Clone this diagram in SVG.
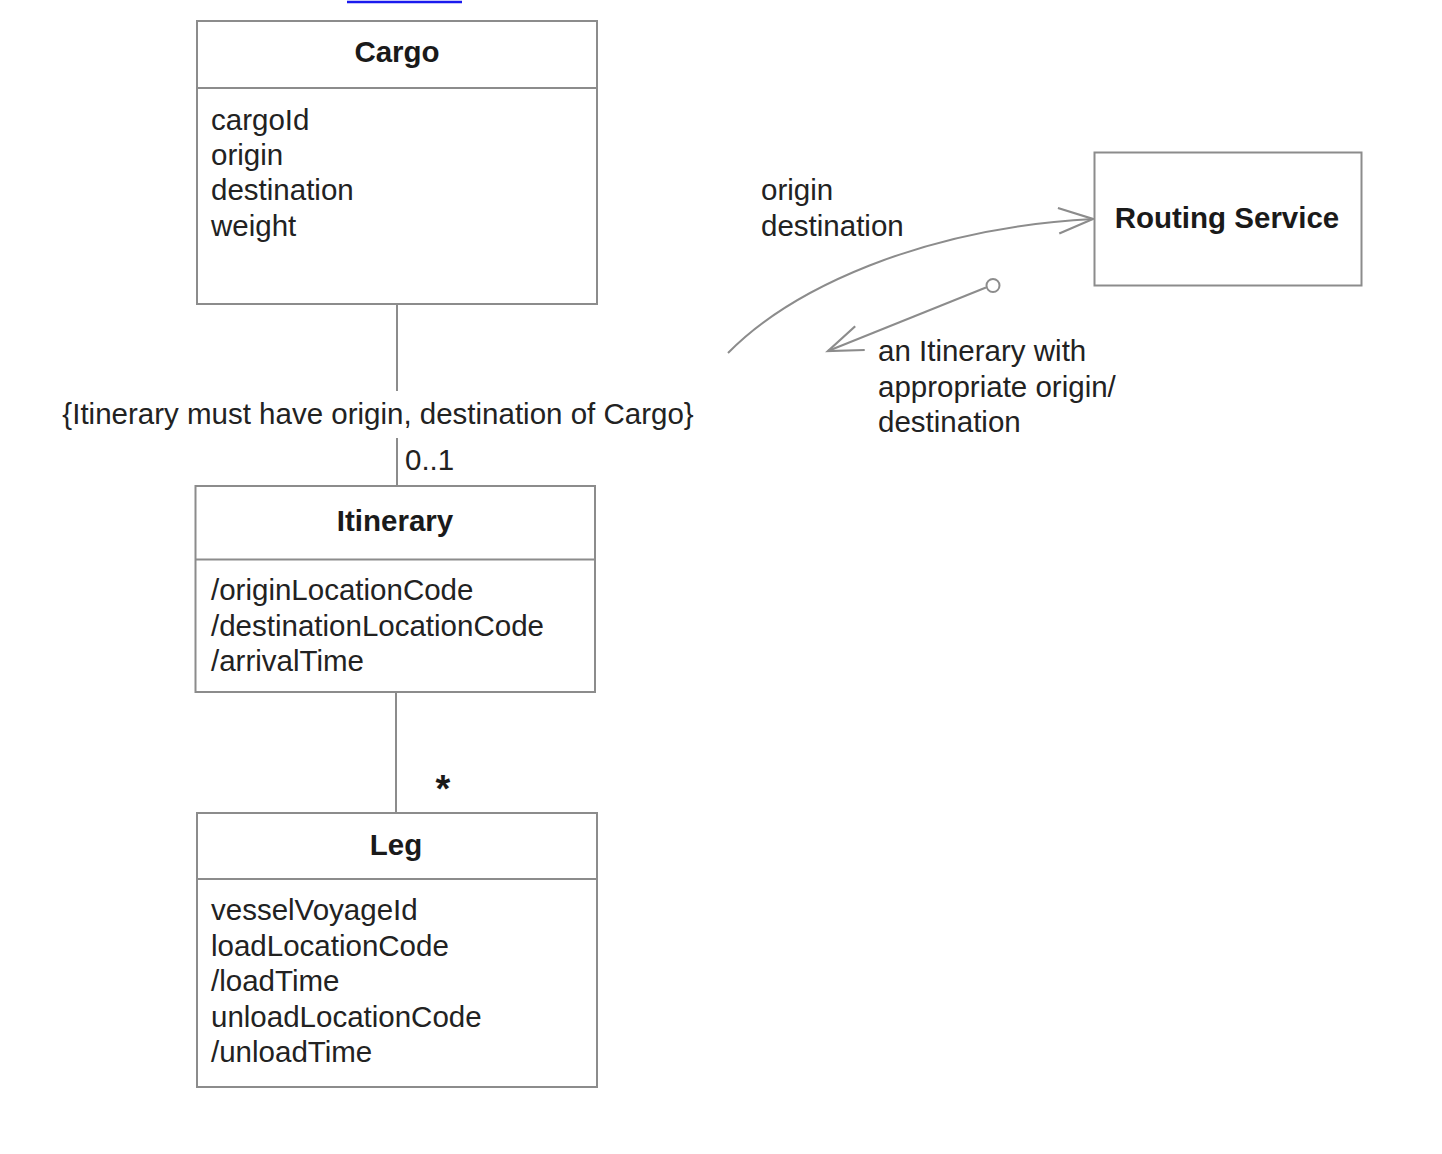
<svg xmlns="http://www.w3.org/2000/svg" width="1442" height="1154" viewBox="0 0 1442 1154">
<style>
  .box{fill:#fff;stroke:#8c8c8c;stroke-width:2}
  .div{stroke:#8c8c8c;stroke-width:2}
  .ln{fill:none;stroke:#8c8c8c;stroke-width:2}
  .t{font-family:"Liberation Sans",Arial,sans-serif;font-size:29.5px;fill:#222}
  .b{font-family:"Liberation Sans",Arial,sans-serif;font-size:29.5px;font-weight:bold;fill:#1a1a1a;text-anchor:middle}
</style>
<defs>
  <marker id="open" markerUnits="userSpaceOnUse" markerWidth="40" markerHeight="40" refX="0" refY="0" orient="auto" viewBox="-34 -15 36 30" overflow="visible">
    <path d="M-31,-11.5 L0,0 L-31,11.5" fill="none" stroke="#8c8c8c" stroke-width="2"/>
  </marker>
</defs>
<rect width="1442" height="1154" fill="#fff"/>
<line x1="347" y1="2" x2="462" y2="2" stroke="#1a1aee" stroke-width="2.5"/>

<g id="connectors">
  <line class="ln" x1="397" y1="304" x2="397" y2="391"/>
  <line class="ln" x1="397" y1="438" x2="397" y2="486"/>
  <line class="ln" x1="396" y1="692" x2="396" y2="813"/>
  <path class="ln" d="M728,353 C790,290 920,228 1093,219" marker-end="url(#open)"/>
  <line class="ln" x1="986" y1="287.5" x2="828" y2="351" marker-end="url(#open)"/>
  <circle cx="993" cy="285.5" r="6.5" fill="#fff" stroke="#8c8c8c" stroke-width="2"/>
</g>

<g id="labels">
  <text class="t" x="378" y="424" text-anchor="middle">{Itinerary must have origin, destination of Cargo}</text>
  <text class="t" x="405" y="470">0..1</text>
  <text x="443" y="802" font-family="Liberation Sans,Arial,sans-serif" font-size="38" font-weight="bold" fill="#1a1a1a" text-anchor="middle">*</text>
  <text class="t" x="761" y="200">origin</text>
  <text class="t" x="761" y="236">destination</text>
  <text class="t" x="878" y="361">an Itinerary with</text>
  <text class="t" x="878" y="397">appropriate origin/</text>
  <text class="t" x="878" y="432">destination</text>
</g>

<g id="cargo">
  <rect class="box" x="197" y="21" width="400" height="283"/>
  <line class="div" x1="197" y1="88" x2="597" y2="88"/>
  <text class="b" x="397" y="62">Cargo</text>
  <text class="t" x="211" y="130">cargoId</text>
  <text class="t" x="211" y="165">origin</text>
  <text class="t" x="211" y="200">destination</text>
  <text class="t" x="211" y="236">weight</text>
</g>

<g id="itinerary">
  <rect class="box" x="195.5" y="486" width="399.5" height="206"/>
  <line class="div" x1="195.5" y1="559.5" x2="595" y2="559.5"/>
  <text class="b" x="395" y="531">Itinerary</text>
  <text class="t" x="211" y="600">/originLocationCode</text>
  <text class="t" x="211" y="636">/destinationLocationCode</text>
  <text class="t" x="211" y="671">/arrivalTime</text>
</g>

<g id="leg">
  <rect class="box" x="197" y="813" width="400" height="274"/>
  <line class="div" x1="197" y1="879" x2="597" y2="879"/>
  <text class="b" x="396" y="855">Leg</text>
  <text class="t" x="211" y="920">vesselVoyageId</text>
  <text class="t" x="211" y="956">loadLocationCode</text>
  <text class="t" x="211" y="991">/loadTime</text>
  <text class="t" x="211" y="1027">unloadLocationCode</text>
  <text class="t" x="211" y="1062">/unloadTime</text>
</g>

<g id="routing-service">
  <rect class="box" x="1094.5" y="152.5" width="267" height="133"/>
  <text class="b" x="1227" y="228">Routing Service</text>
</g>
</svg>
